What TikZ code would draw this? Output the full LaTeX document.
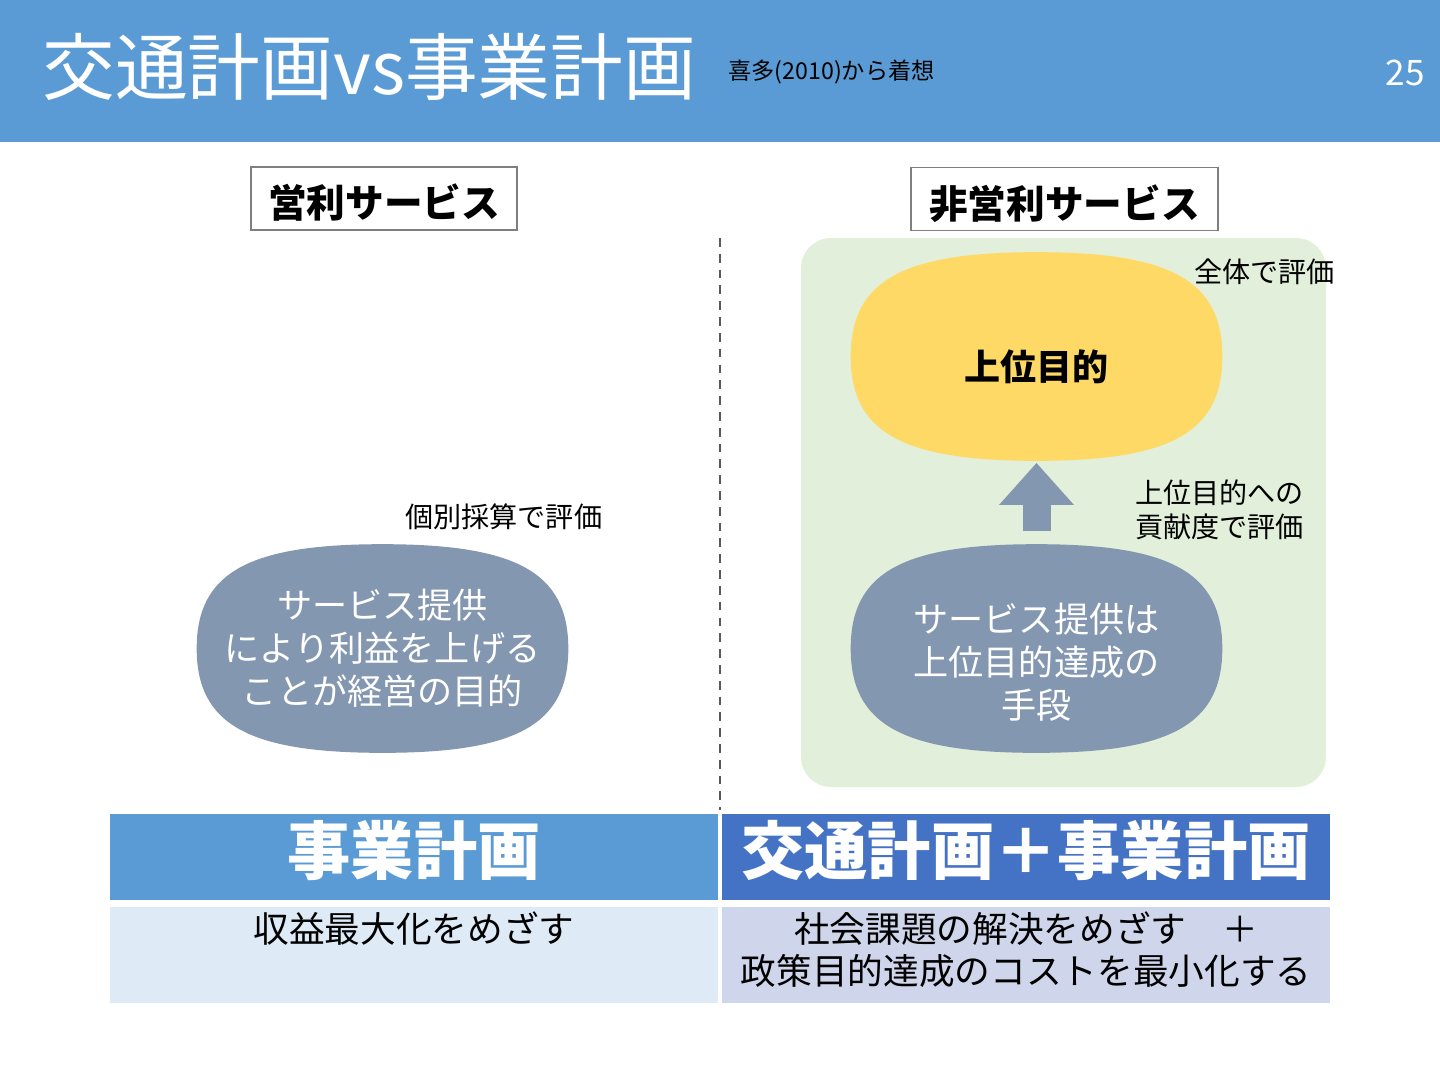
\documentclass[tikz,border=0pt]{standalone}
\usepackage{fontspec}
\setmainfont{Noto Sans CJK JP}
\usetikzlibrary{arrows.meta,positioning}
\pgfdeclarelayer{back}
\pgfdeclarelayer{blobs}
\pgfsetlayers{back,blobs,main}
\definecolor{hdrblue}{HTML}{5B9BD5}
\definecolor{hdrdark}{HTML}{4472C4}
\definecolor{blobgray}{HTML}{8497B0}
\definecolor{blobyellow}{HTML}{FFD966}
\definecolor{greenbg}{HTML}{E2EFDA}
\definecolor{cellblue}{HTML}{DEEAF6}
\definecolor{cellviolet}{HTML}{CFD5EA}
\definecolor{framegray}{HTML}{7F7F7F}
\definecolor{dashgray}{HTML}{595959}

\begin{document}
\begin{tikzpicture}[x=0.02cm, y=-0.02cm,
    lbl/.style={anchor=west, inner sep=0pt, align=left, font=\fontsize{16}{19.3}\selectfont},
    tagbox/.style={draw=framegray, line width=0.9pt, minimum height=1.26cm, inner sep=0pt,
      font=\bfseries\fontsize{22}{26}\selectfont},
    blob/.style={minimum width=7.42cm, minimum height=4.16cm, inner sep=0pt, align=center,
      text=white, font=\fontsize{20}{24.4}\selectfont},
    hdcell/.style={minimum width=12.16cm, minimum height=1.72cm, inner sep=0pt, text=white,
      font=\bfseries\fontsize{36}{40}\selectfont},
    bodycell/.style={minimum width=12.16cm, minimum height=1.92cm, inner sep=0pt},
    bodytext/.style={anchor=north, inner sep=0pt, align=center, font=\fontsize{20.3}{24}\selectfont},
    uparrow/.style={blobgray, line width=0.56cm, shorten <=0.26cm, shorten >=0.04cm,
      -{Triangle[width=1.44cm, length=0.84cm]}}]
    \useasboundingbox (0,0) rectangle (1440,1080);

    % Header band
    \fill[hdrblue] (0,0) rectangle (1440,142);
    \node[anchor=west, inner sep=0pt, text=white, font=\fontsize{41.4}{46}\selectfont] (title) at (42,67) {交通計画vs事業計画};
    \node[anchor=west, inner sep=0pt, font=\fontsize{13.2}{16}\selectfont] (src) at (728,72) {喜多(2010)から着想};
    \node[anchor=east, inner sep=0pt, text=white, font=\fontsize{20}{24}\selectfont] (page) at (1425,73) {25};

    % Column headings
    \node[tagbox, minimum width=5.32cm] (profit) at (384,198.5) {\rule{0pt}{1.1em}営利サービス};
    \node[tagbox, minimum width=6.14cm] (nonprofit) at (1064.5,199) {\rule{0pt}{1.1em}非営利サービス};

    % Divider
    \coordinate (dtop) at (720,238);
    \coordinate (dbot) at (720,810);
    \draw[dashgray, line width=1.2pt, dash pattern=on 5pt off 4pt] (dtop) -- (dbot);

    % Non-profit panel
    \begin{pgfonlayer}{back}
        \fill[greenbg, rounded corners=0.6cm] (801,238) rectangle (1326,787);
    \end{pgfonlayer}

    % Blobs
    \node[blob] (goalL) at (382.5,648.5) {サービス提供\\により利益を上げる\\ことが経営の目的};
    \node[blob, text=black, font=\bfseries\fontsize{20.5}{24}\selectfont] (upper) at (1036.5,356.5) {\rule{0pt}{1.4em}上位目的};
    \node[blob] (meansR) at (1036.5,648.5) {\rule{0pt}{1.6em}サービス提供は\\上位目的達成の\\手段};
    \begin{pgfonlayer}{blobs}
        \foreach \b/\c in {goalL/blobgray, upper/blobyellow, meansR/blobgray}
            \fill[\c] (\b.east) .. controls +(0,-76) and +(134,0) .. (\b.north)
                .. controls +(-134,0) and +(0,-76) .. (\b.west)
                .. controls +(0,76) and +(-134,0) .. (\b.south)
                .. controls +(134,0) and +(0,76) .. (\b.east) -- cycle;
    \end{pgfonlayer}
    \draw[uparrow] (meansR.north) -- (upper.south);

    % Notes
    \node[lbl] (evalL) at (405,517) {個別採算で評価};
    \node[lbl] (evalAll) at (1194,272) {全体で評価};
    \node[lbl] (evalPart) at (1135,510) {上位目的への\\貢献度で評価};

    % Table
    \node[hdcell, fill=hdrblue] (bizH) at (414,857) {\rule[-0.3em]{0pt}{0.1pt}事業計画};
    \node[hdcell, fill=hdrdark] (mixH) at (1026,857) {\rule[-0.3em]{0pt}{0.1pt}交通計画＋事業計画};
    \node[bodycell, fill=cellblue] (bizB) at (414,955) {};
    \node[bodycell, fill=cellviolet] (mixB) at (1026,955) {};
    \node[bodytext] (bizT) at ([yshift=-0.1cm]bizB.north) {収益最大化をめざす};
    \node[bodytext] (mixT) at ([yshift=-0.1cm]mixB.north) {社会課題の解決をめざす　＋\\政策目的達成のコストを最小化する};
\end{tikzpicture}
\end{document}
